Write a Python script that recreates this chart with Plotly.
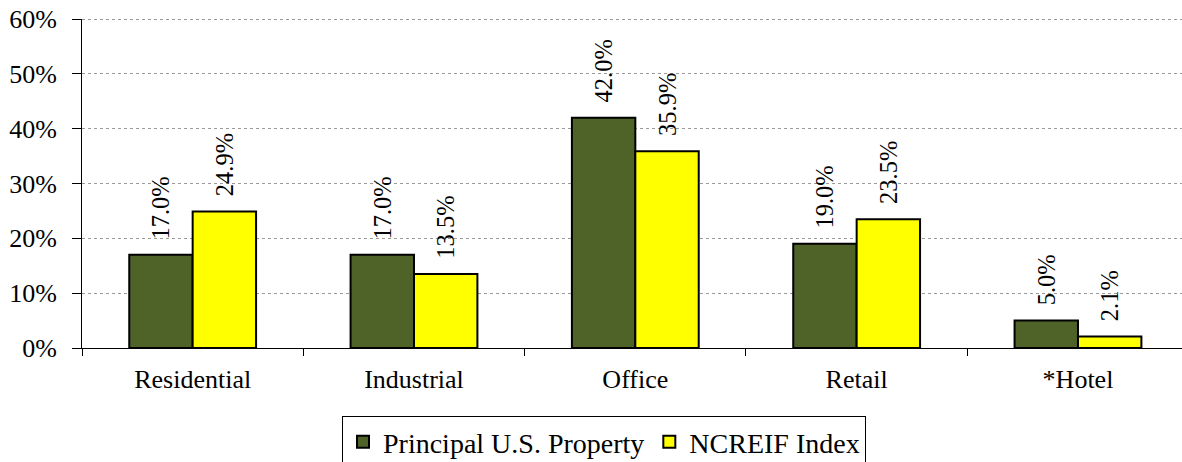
import plotly.graph_objects as go

categories = ["Residential", "Industrial", "Office", "Retail", "*Hotel"]
principal = [17.0, 17.0, 42.0, 19.0, 5.0]
ncreif = [24.9, 13.5, 35.9, 23.5, 2.1]
series_names = ["Principal U.S. Property", "NCREIF Index"]
tick_vals = [0, 10, 20, 30, 40, 50, 60]
tick_text = ["0%", "10%", "20%", "30%", "40%", "50%", "60%"]

FONT = "Liberation Serif, Times New Roman, serif"
FS = 26
fig = go.Figure()
for name, vals, color in [(series_names[0], principal, "#4F6228"),
                          (series_names[1], ncreif, "#FFFF00")]:
    fig.add_trace(go.Bar(
        x=categories, y=vals, name=name,
        marker=dict(color=color, line=dict(color="black", width=2)),
        text=["\u00a0\u00a0" + f"{v:.1f}%" for v in vals], textposition="outside",
        textangle=-90, textfont=dict(family=FONT, size=24.5, color="black"),
        constraintext="none", cliponaxis=False,
    ))

fig.update_layout(
    width=1182, height=462,
    margin=dict(l=82, r=0, t=19, b=114, autoexpand=False),
    paper_bgcolor="white", plot_bgcolor="white",
    barmode="group", bargap=0.427, bargroupgap=0,
    font=dict(family=FONT, size=FS, color="black"),
    showlegend=True,
    legend=dict(orientation="h", xref="container", yref="container",
                x=0.511, xanchor="center", y=0.0996, yanchor="top",
                bordercolor="black", borderwidth=1, font=dict(size=28),
                itemwidth=30, tracegroupgap=0),
    uniformtext=dict(mode=False),
)
fig.update_xaxes(range=[-0.5, 4.47], showline=True, linecolor="black", linewidth=1,
                 ticks="outside", ticklen=7, tickcolor="black", automargin=False,
                 tickson="boundaries", showgrid=False, tickfont=dict(size=FS),
                 ticklabelstandoff=8)
fig.update_yaxes(range=[0, 60], tickvals=tick_vals, ticktext=tick_text,
                 showline=True, linecolor="black", linewidth=1, automargin=False,
                 ticks="outside", ticklen=9, tickcolor="black",
                 showgrid=True, gridcolor="#9a9a9a", griddash="dot", gridwidth=1,
                 zeroline=False, tickfont=dict(size=FS), ticklabelstandoff=10)
fig.add_shape(type="line", xref="paper", yref="y", x0=0, x1=1, y0=60, y1=60,
              line=dict(color="#333333", width=1, dash="dot"))

fig.write_html("out.html", config={"displayModeBar": False},
               post_script="document.body.style.margin='0';document.body.style.overflow='hidden';")
